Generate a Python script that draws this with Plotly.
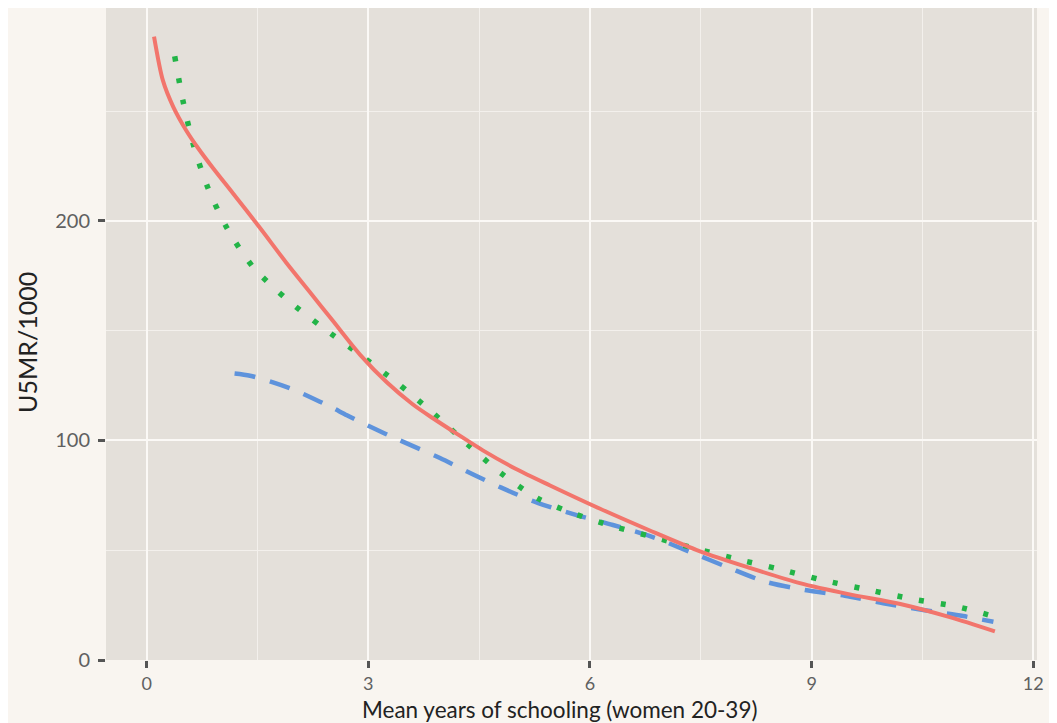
import plotly.graph_objects as go

# Data
red_x = [0.1, 0.22, 0.36, 0.54, 0.7, 0.9, 1.17, 1.53, 1.89, 2.2, 2.52, 2.89, 3.25, 3.6, 3.88, 4.2, 4.55, 5.0, 5.46, 6.13, 6.81, 7.49, 8.16, 8.84, 9.5, 10.2, 10.87, 11.48]
red_y = [284, 264, 252, 241, 233, 224, 212.5, 197, 181, 168, 154.5, 139, 126.5, 116.5, 110, 103, 95.5, 87, 79.5, 69, 59, 49.5, 42, 35, 30, 25.5, 19.5, 13]

green_x = [0.38, 0.49, 0.63, 0.83, 1.10, 1.44, 1.89, 2.38, 2.89, 3.38, 3.86, 4.32, 4.78, 5.30, 5.8, 6.3, 6.8, 7.35, 7.94, 8.55, 9.15, 9.76, 10.36, 10.97, 11.45]
green_y = [275, 255, 235, 215, 196, 179, 164.5, 151.5, 139, 126.5, 113, 99, 85.5, 73.5, 66.5, 61, 56.5, 51.5, 46.3, 41.5, 36.4, 32, 27.8, 24.3, 20]

blue_x = [1.19, 1.40, 1.71, 1.98, 2.21, 2.48, 2.71, 2.98, 3.43, 3.97, 4.42, 4.80, 5.30, 5.82, 6.31, 6.85, 7.35, 7.86, 8.37, 8.91, 9.45, 9.97, 10.51, 11.05, 11.46]
blue_y = [130.5, 129.5, 126.5, 123.3, 119.8, 115.5, 111.5, 107, 100, 92, 84.5, 78.5, 71.5, 66, 61.5, 56, 49.3, 42.3, 35.7, 31.9, 29.3, 25.8, 22.8, 20, 17.4]

x_ticks = [0, 3, 6, 9, 12]
y_ticks = [0, 100, 200]
x_minor = [1.5, 4.5, 7.5, 10.5]
y_minor = [50, 150, 250]
x_title = "Mean years of schooling (women 20-39)"
y_title = "U5MR/1000"

FONT = "Lato"
fig = go.Figure()
fig.add_trace(go.Scatter(x=blue_x, y=blue_y, mode="lines",
                         line=dict(color="#5E93DC", width=4.5, dash="21px,15px", shape="spline", smoothing=0.8),
                         showlegend=False))
fig.add_trace(go.Scatter(x=green_x, y=green_y, mode="lines",
                         line=dict(color="#22B447", width=5.5, dash="5px,17px", shape="spline", smoothing=0.8),
                         showlegend=False))
fig.add_trace(go.Scatter(x=red_x, y=red_y, mode="lines",
                         line=dict(color="#F2756C", width=4, shape="spline", smoothing=0.8),
                         showlegend=False))

axis_common = dict(
    showgrid=True, gridcolor="#FBF9F6", gridwidth=2,
    zeroline=False, showline=False,
    ticks="outside", ticklen=7, tickwidth=2.5, tickcolor="#555555",
)
fig.update_xaxes(range=[-0.55, 12.05], tickvals=x_ticks, ticktext=[str(v) for v in x_ticks],
                 tickfont=dict(family=FONT, size=18, color="#606060"),
                 minor=dict(tickvals=x_minor, showgrid=True, gridcolor="#F3F0EC", gridwidth=1, ticks=""),
                 **axis_common)
fig.update_yaxes(range=[0, 297], tickvals=y_ticks, ticktext=[str(v) for v in y_ticks],
                 tickfont=dict(family=FONT, size=20, color="#606060"),
                 ticklabelstandoff=4,
                 minor=dict(tickvals=y_minor, showgrid=True, gridcolor="#F3F0EC", gridwidth=1, ticks=""),
                 **axis_common)

fig.add_annotation(text=x_title, xref="paper", yref="paper", x=0.4866, y=-0.076,
                   xanchor="center", yanchor="middle", showarrow=False,
                   font=dict(family=FONT, size=22.5, color="#222222"))
fig.add_annotation(text=y_title, xref="paper", yref="paper", x=-0.085, y=0.4877,
                   xanchor="center", yanchor="middle", textangle=-90, showarrow=False,
                   font=dict(family=FONT, size=25, color="#222222"))

fig.update_layout(
    width=1049, height=715,
    margin=dict(l=98, r=20, t=0, b=63),
    paper_bgcolor="#F9F5F0",
    plot_bgcolor="#E4E0DA",
)
fig.write_html("out.html")
